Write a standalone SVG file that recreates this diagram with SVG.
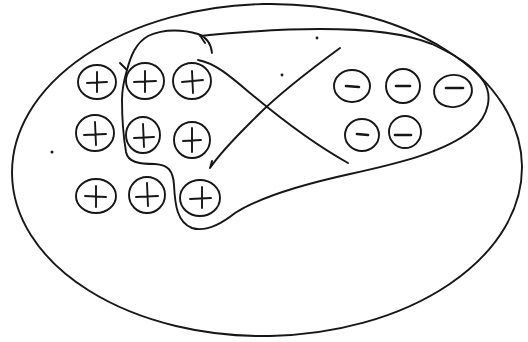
<svg xmlns="http://www.w3.org/2000/svg" width="528" height="342" viewBox="0 0 528 342">
<style>
.s{fill:none;stroke:#161616;stroke-width:1.9;stroke-linecap:round;stroke-linejoin:round}
.m{fill:none;stroke:#161616;stroke-width:2.6;stroke-linecap:round}
</style>
<rect width="528" height="342" fill="#fff"/>
<g id="outer">
<ellipse class="s" cx="267" cy="170" rx="255" ry="166" transform="rotate(-1 267 170)"/>
</g>
<g id="plus">
<g class="s">
<ellipse cx="97" cy="82" rx="19" ry="17"/><path d="M97 72 L97 92 M87 83 L107 82"/>
<ellipse cx="145" cy="81" rx="19" ry="18"/><path d="M145 71 L145 92 M134 82 L156 81"/>
<ellipse cx="192" cy="81" rx="19" ry="18"/><path d="M192 71 L193 93 M182 82 L203 80"/>
<ellipse cx="95" cy="133" rx="19" ry="18"/><path d="M95 122 L96 145 M84 135 L106 134"/>
<ellipse cx="143" cy="135" rx="17" ry="18"/><path d="M143 124 L144 147 M134 138 L154 137"/>
<ellipse cx="192" cy="140" rx="18" ry="18"/><path d="M192 128 L192 152 M183 141 L201 140"/>
<ellipse cx="96" cy="196" rx="20" ry="17"/><path d="M96 186 L96 207 M85 196 L106 197"/>
<ellipse cx="147" cy="195" rx="18" ry="18"/><path d="M147 183 L148 206 M136 197 L158 196"/>
<ellipse cx="200" cy="198" rx="20" ry="18"/><path d="M202 187 L202 208 M190 199 L211 198"/>
</g>
</g>
<g id="minus">
<ellipse class="s" cx="352" cy="86" rx="18" ry="16"/><path class="m" d="M346 86 L359 87"/>
<ellipse class="s" cx="403" cy="86" rx="17" ry="17"/><path class="m" d="M396 86 L410 86"/>
<ellipse class="s" cx="453" cy="91" rx="19" ry="16" transform="rotate(-8 453 91)"/><path class="m" d="M446 88 L463 88"/>
<ellipse class="s" cx="362" cy="135" rx="17" ry="16"/><path class="m" d="M357 134 L368 135"/>
<ellipse class="s" cx="405" cy="132" rx="16" ry="16"/><path class="m" d="M395 135 L411 135"/>
</g>
<g id="connectors">
<path class="s" d="M212 53 C211 43 206 37 198 34 C185 30 165 28 148 36 C136 43 131 55 127 70 C124 80 122 88 122 100 C122 120 124 140 126 152 C128 162 138 164 155 164 C168 165 173 170 174 185 C175 205 177 222 192 228 C205 232 220 225 235 213 C260 197 300 185 350 174 C400 163 445 152 472 130 C490 115 492 95 484 82 C474 66 455 55 432 44 C405 33 370 29 320 29 C280 29 240 32 200 36"/>
<path class="s" d="M201 37 L205 43"/>
<path class="s" d="M198 60 C215 63 230 76 250 93 C275 114 310 142 348 163"/>
<path class="s" d="M340 48 C310 70 280 93 258 115 C240 133 222 150 210 168 M210 168 L212 161"/>
<path class="s" d="M120 63 L127 70"/>
<circle cx="317" cy="38" r="1.4" fill="#161616"/>
<circle cx="282" cy="75" r="1.4" fill="#161616"/>
<circle cx="52" cy="152" r="1.5" fill="#161616"/>
</g>
</svg>
